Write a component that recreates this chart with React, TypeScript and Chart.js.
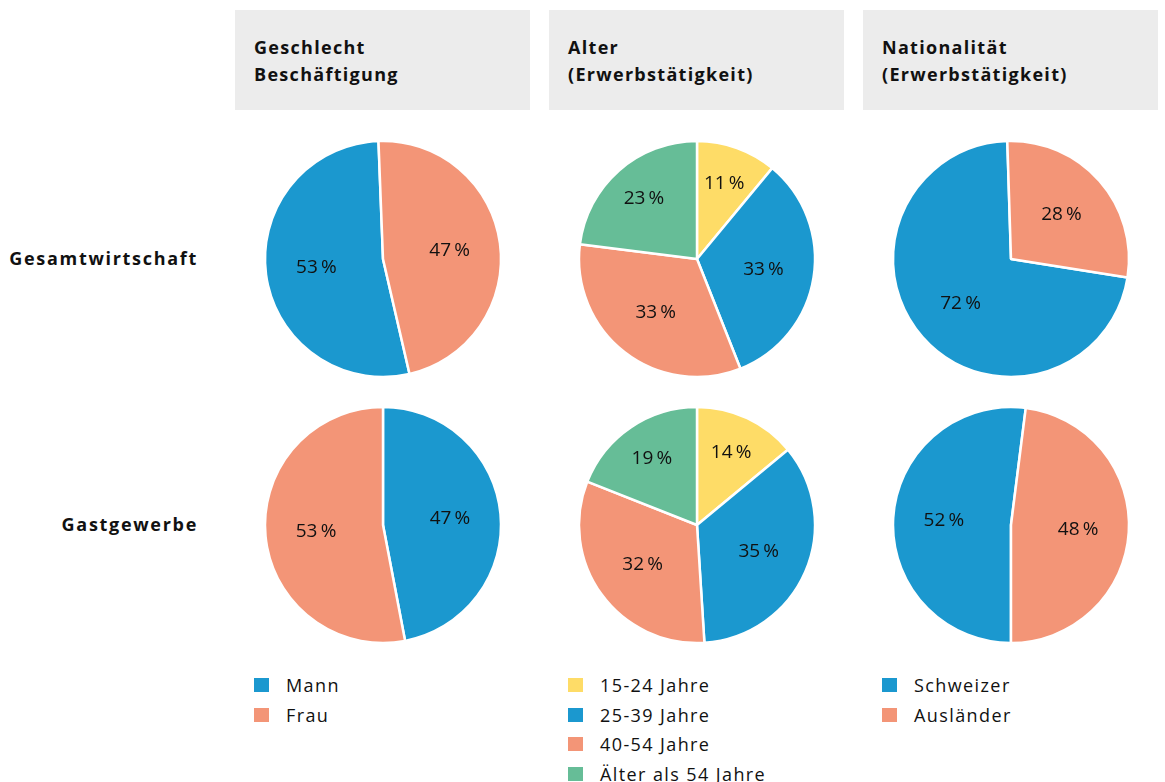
import React, { useEffect, useRef } from "react";
import { Chart, registerables } from "chart.js";

Chart.register(...registerables);

const BLUE = "#1b98cf";
const SALMON = "#f39577";
const YELLOW = "#fedc67";
const GREEN = "#66bd97";

const columnTitles = [
  ["Geschlecht", "Beschäftigung"],
  ["Alter", "(Erwerbstätigkeit)"],
  ["Nationalität", "(Erwerbstätigkeit)"],
];
const rowTitles = ["Gesamtwirtschaft", "Gastgewerbe"];

const genderLabels = ["Mann", "Frau"];
const ageLabels = ["15-24 Jahre", "25-39 Jahre", "40-54 Jahre", "Älter als 54 Jahre"];
const nationLabels = ["Schweizer", "Ausländer"];

const genderTotal = [53, 47];
const genderHotel = [47, 53];
const ageTotal = [11, 33, 33, 23];
const ageHotel = [14, 35, 32, 19];
const nationTotal = [72, 28];
const nationHotel = [52, 48];

const genderColors = [BLUE, SALMON];
const ageColors = [YELLOW, BLUE, SALMON, GREEN];
const nationColors = [BLUE, SALMON];

const FONT = "'Open Sans', sans-serif";

const labelPlugin = {
  id: "sliceLabels",
  afterDatasetsDraw(chart: any) {
    const ctx = chart.ctx;
    const meta = chart.getDatasetMeta(0);
    const data = chart.data.datasets[0].data as number[];
    ctx.save();
    ctx.fillStyle = "#111";
    ctx.font = `19px ${FONT}`;
    ctx.textAlign = "center";
    ctx.textBaseline = "middle";
    meta.data.forEach((arc: any, i: number) => {
      const { x, y, startAngle, endAngle, outerRadius } = arc.getProps(
        ["x", "y", "startAngle", "endAngle", "outerRadius"],
        true
      );
      const mid = (startAngle + endAngle) / 2;
      const f = data[i] < 25 ? 0.68 : 0.57;
      const r = outerRadius * f;
      ctx.fillText(`${data[i]}\u2009%`, x + Math.cos(mid) * r, y + Math.sin(mid) * r);
    });
    ctx.restore();
  },
};

function Pie({
  values,
  labels,
  colors,
  rotation,
  cx,
  cy,
}: {
  values: number[];
  labels: string[];
  colors: string[];
  rotation: number;
  cx: number;
  cy: number;
}) {
  const ref = useRef<HTMLCanvasElement>(null);
  useEffect(() => {
    if (!ref.current) return;
    const chart = new Chart(ref.current, {
      type: "pie",
      data: {
        labels,
        datasets: [
          {
            data: values,
            backgroundColor: colors,
            borderColor: "#ffffff",
            borderWidth: 2.5,
          },
        ],
      },
      options: {
        responsive: false,
        animation: false,
        rotation,
        radius: 118,
        layout: { padding: 0 },
        plugins: { legend: { display: false }, tooltip: { enabled: false } },
      },
      plugins: [labelPlugin],
    });
    return () => chart.destroy();
  }, []);
  const size = 250;
  return (
    <canvas
      ref={ref}
      width={size}
      height={size}
      style={{ position: "absolute", left: cx - size / 2, top: cy - size / 2, width: size, height: size }}
    />
  );
}

function Legend({ labels, colors, left, top }: { labels: string[]; colors: string[]; left: number; top: number }) {
  return (
    <div style={{ position: "absolute", left, top }}>
      {labels.map((l, i) => (
        <div key={l} style={{ position: "absolute", left: 0, top: i * 29.5, height: 20, whiteSpace: "nowrap" }}>
          <div style={{ position: "absolute", left: 0, top: 3, width: 15, height: 14, background: colors[i] }} />
          <div
            style={{
              position: "absolute",
              left: 32,
              top: -2,
              fontFamily: FONT,
              fontSize: 18,
              color: "#111",
              lineHeight: "24px",
              letterSpacing: 1.4,
            }}
          >
            {l}
          </div>
        </div>
      ))}
    </div>
  );
}

export default function App() {
  const colX = [235, 549, 863];
  const pieX = [383, 697, 1011];
  const pieY = [259, 525];
  return (
    <div
      style={{
        position: "absolute",
        left: 0,
        top: 0,
        width: 1165,
        height: 782,
        background: "#fff",
        overflow: "hidden",
      }}
    >
      {columnTitles.map((t, i) => (
        <div
          key={i}
          style={{
            position: "absolute",
            left: colX[i],
            top: 10,
            width: 295,
            height: 100,
            background: "#ececec",
          }}
        >
          <div
            style={{
              position: "absolute",
              left: 19,
              top: 24,
              fontFamily: FONT,
              fontWeight: 700,
              fontSize: 18,
              lineHeight: "27px",
              color: "#111",
              letterSpacing: 1.3,
            }}
          >
            {t[0]}
            <br />
            {t[1]}
          </div>
        </div>
      ))}
      {rowTitles.map((t, i) => (
        <div
          key={t}
          style={{
            position: "absolute",
            right: 1165 - 198,
            top: pieY[i] - 14,
            fontFamily: FONT,
            fontWeight: 700,
            fontSize: 18,
            lineHeight: "26px",
            color: "#111",
            letterSpacing: 1.7,
            whiteSpace: "nowrap",
          }}
        >
          {t}
        </div>
      ))}
      <Pie values={genderTotal} labels={genderLabels} colors={genderColors} rotation={167} cx={pieX[0]} cy={pieY[0]} />
      <Pie values={ageTotal} labels={ageLabels} colors={ageColors} rotation={0} cx={pieX[1]} cy={pieY[0]} />
      <Pie values={nationTotal} labels={nationLabels} colors={nationColors} rotation={99} cx={pieX[2]} cy={pieY[0]} />
      <Pie values={genderHotel} labels={genderLabels} colors={genderColors} rotation={0} cx={pieX[0]} cy={pieY[1]} />
      <Pie values={ageHotel} labels={ageLabels} colors={ageColors} rotation={0} cx={pieX[1]} cy={pieY[1]} />
      <Pie values={nationHotel} labels={nationLabels} colors={nationColors} rotation={180} cx={pieX[2]} cy={pieY[1]} />
      <Legend labels={genderLabels} colors={genderColors} left={254} top={675} />
      <Legend labels={ageLabels} colors={ageColors} left={568} top={675} />
      <Legend labels={nationLabels} colors={nationColors} left={882} top={675} />
    </div>
  );
}
